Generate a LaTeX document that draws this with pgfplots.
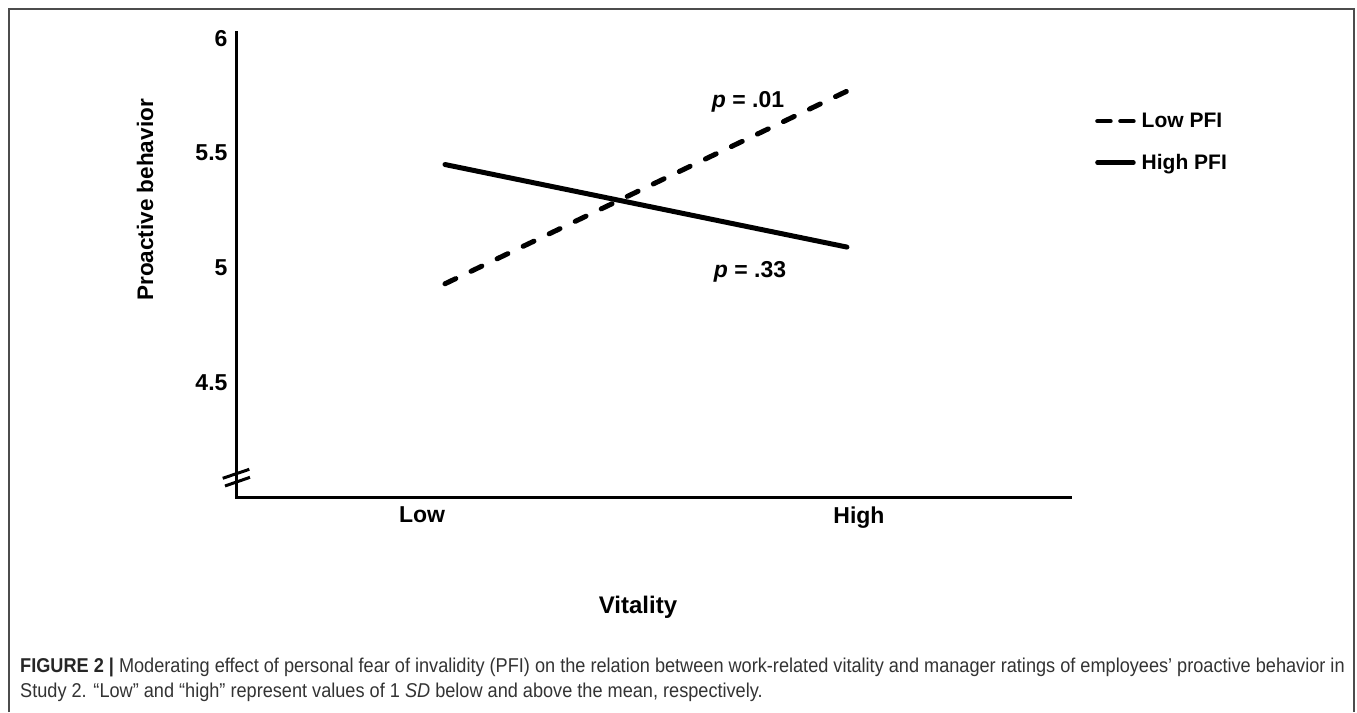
\documentclass[border=0pt]{standalone}
\usepackage{pgfplots}
\pgfplotsset{compat=1.18}
\usepackage{fontspec}
\setmainfont{Liberation Sans}
\newfontfamily\capfont[FakeStretch=0.907]{Liberation Sans}
\definecolor{captext}{HTML}{333333}
\begin{document}
\begin{tikzpicture}
\useasboundingbox (0,0) rectangle (1357pt,-712pt);
\draw[line width=2pt, black!70] (9pt,-712pt) -- (9pt,-9pt) -- (1354pt,-9pt) -- (1354pt,-712pt);
\begin{axis}[
  at={(236pt,-497pt)}, anchor=south west,
  scale only axis, width=834pt, height=465pt,
  xmin=-0.52, xmax=1.555, ymin=4, ymax=6.028,
  axis x line=bottom, axis y line=left,
  axis line style={line width=3pt, -, line cap=rect},
  xtick={-0.057,1.03}, xticklabels={Low,High},
  ytick={4.5,5,5.5,6}, yticklabels={4.5,5,5.5,6},
  major tick length=0pt,
  tick label style={font=\bfseries\fontsize{23}{27}\selectfont},
  x tick label style={yshift=-6pt},
  y tick label style={xshift=-5pt},
  xlabel={Vitality},
  xlabel style={font=\bfseries\fontsize{24}{28}\selectfont, at={(rel axis cs:0.482,-0.2366)}, anchor=center},
  ylabel={Proactive behavior},
  ylabel style={font=\bfseries\fontsize{22.5}{27}\selectfont, at={(rel axis cs:-0.109,0.639)}, anchor=center, rotate=0},
  legend style={at={(rel axis cs:1.03,0.83)}, anchor=north west, draw=none, fill=none,
    font=\bfseries\fontsize{21}{25}\selectfont, row sep=21pt, inner sep=0pt,
    /tikz/every odd column/.style={column sep=4pt}},
  legend cell align=left,
  clip=false,
]
\addplot[black, line width=5pt, line cap=round, dash pattern=on 12pt off 16.87pt,
  legend image code/.code={\draw[black, line width=4.5pt, line cap=round, dash pattern=on 13pt off 10pt] (2pt,0pt) -- (38pt,0pt);}]
  coordinates {(0,4.93) (1,5.77)};
\addlegendentry{Low PFI}
\addplot[black, line width=5pt, line cap=round,
  legend image code/.code={\draw[black, line width=4.5pt, line cap=round] (2pt,0pt) -- (38pt,0pt);}]
  coordinates {(0,5.45) (1,5.09)};
\addlegendentry{High PFI}
\node[font=\bfseries\fontsize{23}{27}\selectfont] at (axis cs:0.754,5.723) {\textit{p} = .01};
\node[font=\bfseries\fontsize{23}{27}\selectfont] at (axis cs:0.759,4.981) {\textit{p} = .33};
\end{axis}
% axis break marks
\draw[black, line width=3pt] (222.7pt,-478.3pt) -- (249.3pt,-469.3pt);
\draw[black, line width=3pt] (225pt,-486pt) -- (250pt,-477.3pt);
% caption
\node[anchor=base west, inner sep=0pt, font=\capfont\fontsize{20}{25}\selectfont, text=captext] at (20pt,-672pt)
  {{\bfseries\color{black!85}FIGURE 2 |} Moderating effect of personal fear of invalidity (PFI) on the relation between work-related vitality and manager ratings of employees’ proactive behavior in};
\node[anchor=base west, inner sep=0pt, font=\capfont\fontsize{20}{25}\selectfont, text=captext] at (20pt,-697pt)
  {Study 2. “Low” and “high” represent values of 1 \textit{SD} below and above the mean, respectively.};
\end{tikzpicture}
\end{document}
